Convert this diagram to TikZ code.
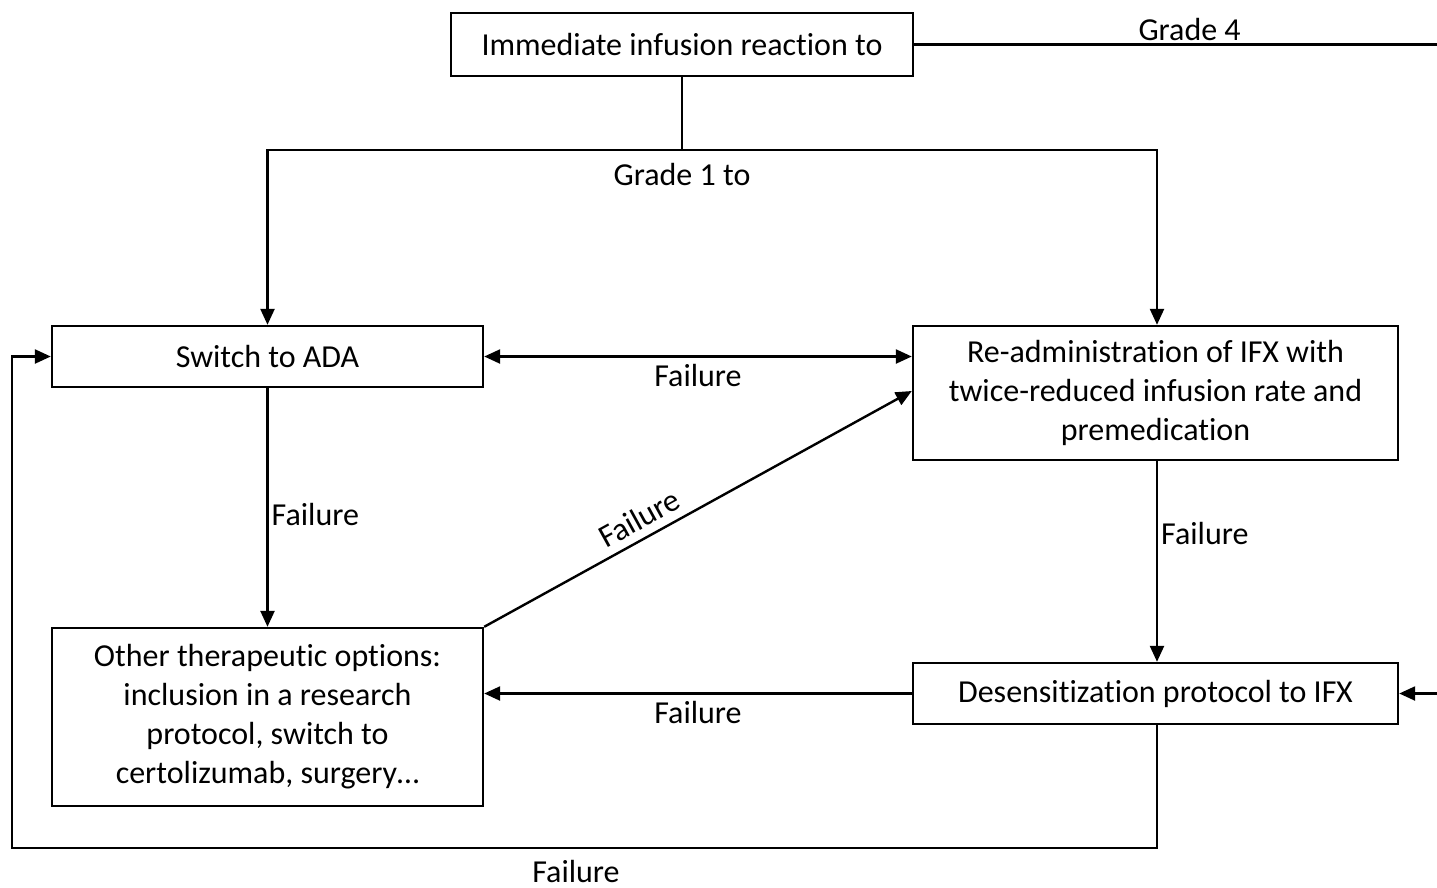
\documentclass[tikz,border=0pt]{standalone}
\usepackage{fontspec}
\setmainfont{Carlito}[Ligatures=NoCommon]
\usetikzlibrary{arrows.meta,positioning}

\begin{document}
\begin{tikzpicture}[x=1pt, y=-1pt,
            every node/.style={font=\fontsize{32}{39}\selectfont},
            box/.style={draw, line width=2.4pt, align=center, inner sep=0pt},
            lbl/.style={inner sep=3pt},
            link/.style={line width=2.4pt},
            arr/.style={line width=2.4pt, -{Triangle[length=16pt,width=14pt]}},
            arrboth/.style={line width=2.4pt, {Triangle[length=16pt,width=14pt]}-{Triangle[length=16pt,width=14pt]}}]
            \useasboundingbox (0,0) rectangle (1437,887);
            % boxes
            \node[box, minimum width=462pt, minimum height=63pt] (react) at (682,44.5) {Immediate infusion reaction to};
            \node[box, minimum width=431pt, minimum height=61pt] (ada) at (267.5,356.5) {Switch to ADA};
            \node[box, minimum width=485pt, minimum height=134pt] (readmin) at (1155.5,393) {Re-administration of IFX with\\twice-reduced infusion rate and\\premedication};
            \node[box, minimum width=431pt, minimum height=178pt] (other) at (267.5,717) {Other therapeutic options:\\inclusion in a research\\protocol, switch to\\certolizumab, surgery…};
            \node[box, minimum width=485pt, minimum height=61pt] (desens) at (1155.5,693.5) {Desensitization protocol to IFX};
            % free ends
            \coordinate (split) at (682,150);
            \coordinate (gfour) at (1437,44.5);
            \coordinate (gfourin) at (1437,693.5);
            \coordinate (loop) at (12,848);
            % connectors
            \draw[link] (react) -- (split);
            \draw[arr] (split) -| (ada.north);
            \draw[arr] (split) -| ([xshift=1.5pt]readmin.north);
            \node[lbl] (grlow) at (682,175) {Grade 1 to};
            \draw[link] (react) -- (gfour) node[lbl, midway, above, xshift=14pt] (grhigh) {Grade 4};
            \draw[arr] (gfourin) -- (desens);
            \draw[arrboth] (ada.east) -- (ada.east -| readmin.west)
                node[lbl, midway, below, yshift=-4pt] (fone) {Failure};
            \draw[arr] (ada) -- (other) node[lbl, pos=0.5, right, yshift=-7pt] (ftwo) {Failure};
            \draw[arr] (other.north east) -- ([yshift=2pt]readmin.west)
                node[lbl, pos=0.385, above=5pt, sloped] (fthree) {Failure};
            \draw[arr] ([xshift=1.5pt]readmin.south) -- ([xshift=1.5pt]desens.north)
                node[lbl, pos=0.36, right] (ffour) {Failure};
            \draw[arr] (desens.west) -- (desens.west -| other.east)
                node[lbl, midway, below, yshift=-4pt] (ffive) {Failure};
            \draw[arr] ([xshift=1.5pt]desens.south) |- (loop) |- (ada.west);
            \node[lbl] (fsix) at (576,871) {Failure};
        \end{tikzpicture}
\end{document}
